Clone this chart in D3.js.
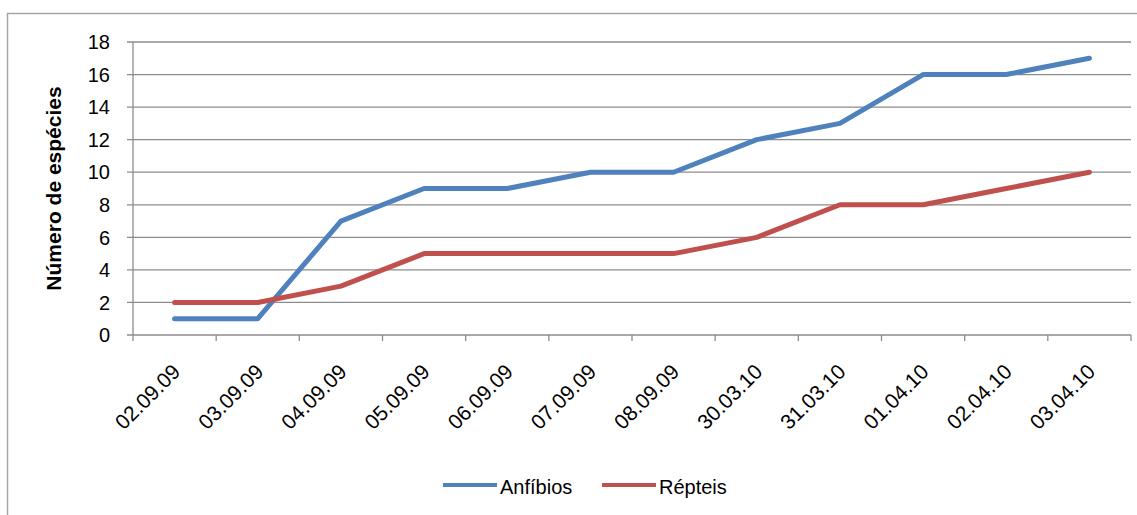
<!DOCTYPE html>
<html><head><meta charset="utf-8">
<script src="https://cdn.jsdelivr.net/npm/d3@7"></script>
<style>body{margin:0;background:#fff;}svg{display:block;font-family:"Liberation Sans",Arial,sans-serif;}</style>
</head><body><svg id="c" width="1137" height="515"></svg>
<script>
const categories = ["02.09.09","03.09.09","04.09.09","05.09.09","06.09.09","07.09.09","08.09.09","30.03.10","31.03.10","01.04.10","02.04.10","03.04.10"];
const anfibios = [1,1,7,9,9,10,10,12,13,16,16,17];
const repteis = [2,2,3,5,5,5,5,6,8,8,9,10];
const yTicks = [0,2,4,6,8,10,12,14,16,18];
const seriesNames = ["Anfíbios","Répteis"];
const colors = ["#4F81BD","#C0504D"];

const svg = d3.select("#c");
svg.append("rect").attr("x",7.5).attr("y",13.5).attr("width",1140).attr("height",520)
  .attr("fill","none").attr("stroke","#a6a6a6").attr("stroke-width",1.5);

const L=133, R=1131, T=42, B=335;
const x = d3.scaleBand().domain(categories).range([L,R]);
const y = d3.scaleLinear().domain([0,18]).range([B,T]);

// gridlines
svg.append("g").selectAll("line").data(yTicks).join("line")
  .attr("x1",L-6).attr("x2",R).attr("y1",d=>y(d)).attr("y2",d=>y(d))
  .attr("stroke","#8c8c8c").attr("stroke-width",1.3);
// y axis line
svg.append("line").attr("x1",L).attr("x2",L).attr("y1",T).attr("y2",B).attr("stroke","#8c8c8c").attr("stroke-width",1.3);
// x ticks
const xt = categories.map((c,i)=>L + i*x.step()).concat([R]);
svg.append("g").selectAll("line").data(xt).join("line")
  .attr("x1",d=>d).attr("x2",d=>d).attr("y1",B).attr("y2",B+6)
  .attr("stroke","#8c8c8c").attr("stroke-width",1.3);

// y labels
svg.append("g").selectAll("text").data(yTicks).join("text")
  .attr("x",L-23).attr("y",d=>y(d)).attr("dy","0.36em").attr("text-anchor","end")
  .attr("font-size",20).attr("fill","#000").text(d=>d);
// y title
svg.append("text").attr("transform",`translate(61,${(T+B)/2}) rotate(-90)`)
  .attr("text-anchor","middle").attr("font-size",21).attr("font-weight","bold").text("Número de espécies");

// x labels
svg.append("g").selectAll("text").data(categories).join("text")
  .attr("transform",d=>`translate(${x(d)+x.bandwidth()/2+7},${B+38}) rotate(-45)`)
  .attr("text-anchor","end").attr("font-size",21).attr("fill","#000").text(d=>d);

const line = d3.line().x((d,i)=>x(categories[i])+x.bandwidth()/2).y(d=>y(d));
[anfibios,repteis].forEach((s,k)=>{
  svg.append("path").datum(s).attr("d",line).attr("fill","none")
    .attr("stroke",colors[k]).attr("stroke-width",5).attr("stroke-linejoin","round").attr("stroke-linecap","round");
});

// legend
const lg = [{x:443},{x:602}];
seriesNames.forEach((n,k)=>{
  svg.append("line").attr("x1",lg[k].x).attr("x2",lg[k].x+54).attr("y1",485).attr("y2",485)
    .attr("stroke",colors[k]).attr("stroke-width",4);
  svg.append("text").attr("x",lg[k].x+57).attr("y",487).attr("dy","0.35em").attr("font-size",20).text(n);
});
</script></body></html>
